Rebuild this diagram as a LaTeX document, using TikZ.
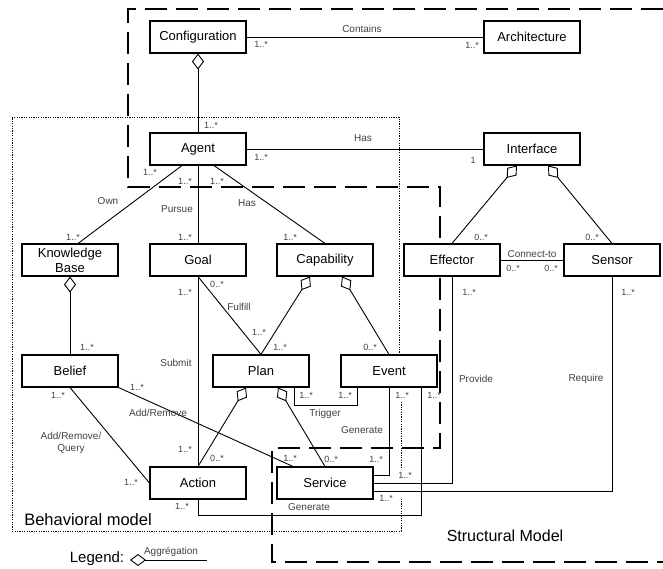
\documentclass[tikz,border=0pt]{standalone}
\usepackage{fontspec}
\setmainfont{Liberation Sans}
\usepackage{tikz}
\usetikzlibrary{arrows.meta}

\tikzset{
    aggrtip/.tip={Diamond[open,length=16pt,width=12pt]},
    cls/.style={draw, line width=1.1pt, fill=white, minimum width=96pt,
        minimum height=32pt, inner sep=1pt, align=center,
        font=\fontsize{13}{15}\selectfont},
    assoc/.style={line width=0.9pt},
    aggr/.style={line width=0.9pt, aggrtip-},
    lbl/.style={text=black!75, font=\fontsize{10}{11.5}\selectfont, inner sep=0pt},
    mult/.style={text=black!75, font=\fontsize{9}{10}\selectfont, inner sep=0pt},
    region/.style={line width=1.2pt, dash pattern=on 22pt off 9pt},
    behav/.style={line width=1pt, dash pattern=on 1.2pt off 1.2pt},
}

\begin{document}
\begin{tikzpicture}[x=1pt, y=-1pt]
    \useasboundingbox (0,0) rectangle (663,568);
    % Structural / Behavioral regions
    \draw[region] (663,9) -- (128,9) -- (128,187) -- (440,187) -- (440,448)
        -- (272,448) -- (272,562) -- (663,562);
    \draw[behav] (399,355) -- (399,117) -- (12,117) -- (12,531) -- (401,531) -- (401,499);
    \draw[behav] (401,402) -- (401,467);

    \node[cls] (config)   at (198,37)  {Configuration};
    \node[cls] (arch)     at (532,37)  {Architecture};
    \node[cls] (agent)    at (198,149) {Agent};
    \node[cls] (iface)    at (532,149) {Interface};
    \node[cls] (kb)       at (70,260)  {Knowledge\\Base};
    \node[cls] (goal)     at (198,260) {Goal};
    \node[cls] (capab)    at (325,260) {Capability};
    \node[cls] (effector) at (452,260) {Effector};
    \node[cls] (sensor)   at (612,260) {Sensor};
    \node[cls] (belief)   at (70,371)  {Belief};
    \node[cls] (plan)     at (261,371) {Plan};
    \node[cls] (event)    at (389,371) {Event};
    \node[cls] (action)   at (198,483) {Action};
    \node[cls] (service)  at (325,483) {Service};

    \draw[assoc] (config) -- (arch);
    \draw[aggr]  (config.south) -- (agent.north);
    \draw[assoc] (agent) -- (iface);
    \draw[assoc] ([xshift=-16pt]agent.south) -- ([xshift=8pt]kb.north);
    \draw[assoc] (agent) -- (goal);
    \draw[assoc] ([xshift=16pt]agent.south) -- (capab.north);
    \draw[aggr]  (kb.south) -- (belief.north);
    \draw[assoc] (goal.south) -- (plan.north);
    \draw[aggr]  ([xshift=-15pt]capab.south) -- (plan.north);
    \draw[aggr]  ([xshift=17pt]capab.south) -- (event.north);
    \draw[assoc] (goal) -- (action);
    \draw[assoc] (belief.south) -- (action.west);
    \draw[assoc] (belief.south east) -- ([xshift=-32pt]service.north);
    \draw[aggr]  ([xshift=-15pt]plan.south) -- (action.north);
    \draw[aggr]  ([xshift=17pt]plan.south) -- (service.north);
    \draw[assoc] ([xshift=33pt]plan.south) -- ++(0,18) -| ([xshift=-32pt]event.south);
    \draw[assoc] (event.south) |- ([yshift=8pt]service.east);
    \draw[assoc] ([xshift=32pt]event.south) -- ++(0,128) -| (action.south);
    \draw[assoc] (effector.south) |- (service.east);
    \draw[assoc] (sensor.south) |- ([yshift=-8pt]service.east);
    \draw[aggr]  ([xshift=-15pt]iface.south) -- (effector.north);
    \draw[aggr]  ([xshift=16pt]iface.south) -- (sensor.north);
    \draw[assoc] (effector) -- (sensor);

    % role names
    \node[lbl] (contains) at (362,29)  {Contains};
    \node[lbl] (hasif)    at (363,138) {Has};
    \node[lbl] (own)      at (108,201) {Own};
    \node[lbl] (pursue)   at (177,209) {Pursue};
    \node[lbl] (hascap)   at (247,203) {Has};
    \node[lbl] (fulfill)  at (239,307) {Fulfill};
    \node[lbl] (submit)   at (176,363) {Submit};
    \node[lbl, align=center] (addrq) at (71,443) {Add/Remove/\\Query};
    \node[lbl] (addrm)    at (158,413) {Add/Remove};
    \node[lbl] (trigger)  at (325,414) {Trigger};
    \node[lbl] (genserv)  at (362,430) {Generate};
    \node[lbl] (genact)   at (309,507) {Generate};
    \node[lbl] (provide)  at (476,379) {Provide};
    \node[lbl] (require)  at (586,379) {Require};
    \node[lbl] (connect)  at (532,254) {Connect-to};

    % multiplicities
    \foreach \px/\py [count=\i] in {261/44, 472/45, 211/125, 261/157, 150/172,
        73/237, 185/181, 185/237, 217/181, 290/237, 87/347, 259/332, 280/347,
        185/292, 185/449, 58/395, 131/482, 137/387, 290/458, 306/395, 345/395,
        402/395, 376/459, 434/395, 182/506, 469/292, 405/475, 628/292, 386/498}
        \node[mult] (one\i) at (\px,\py) {1..*};
    \foreach \px/\py [count=\i] in {217/284, 370/347, 217/458, 331/459,
        481/237, 592/237, 513/268, 551/268}
        \node[mult] (zero\i) at (\px,\py) {0..*};
    \node[mult] (single) at (473,160) {1};

    \node[font=\fontsize{16.5}{18}\selectfont] (behavtitle) at (88,520) {Behavioral model};
    \node[font=\fontsize{16}{18}\selectfont] (structtitle) at (505,536) {Structural Model};

    % legend
    \node[font=\fontsize{15}{17}\selectfont] (legend) at (97,559) {Legend:};
    \coordinate (lgstart) at (130,560);
    \coordinate (lgend) at (207,560);
    \draw[aggr] (lgstart) -- (lgend);
    \node[lbl] (aggrlbl) at (171,552) {Aggrégation};
\end{tikzpicture}
\end{document}
